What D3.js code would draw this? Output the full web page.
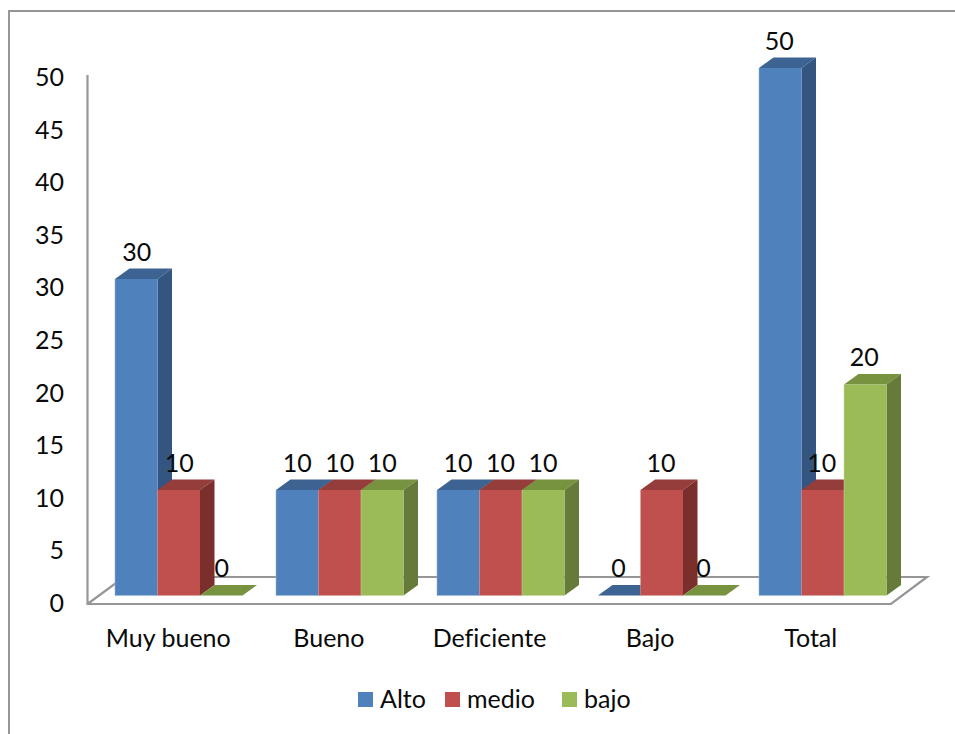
<!DOCTYPE html>
<html>
<head>
<meta charset="utf-8">
<script src="https://cdn.jsdelivr.net/npm/d3@7"></script>
<style>
html,body{margin:0;padding:0;background:#fff;overflow:hidden}
text{font-family:Lato,"Open Sans",sans-serif;fill:#0a0a0a;font-variant-ligatures:none}
</style>
</head>
<body>
<svg id="chart" width="955" height="734"></svg>
<script>
const categories = ["Muy bueno", "Bueno", "Deficiente", "Bajo", "Total"];
const seriesNames = ["Alto", "medio", "bajo"];
const alto = [30, 10, 10, 0, 50];
const medio = [10, 10, 10, 10, 10];
const bajo = [0, 10, 10, 0, 20];
const yTicks = [0, 5, 10, 15, 20, 25, 30, 35, 40, 45, 50];
const frontColors = ["#4f81bd", "#c0504d", "#9bbb59"];
const topColors = ["#3c6391", "#953d3b", "#78933f"];
const sideColors = ["#335580", "#7b2f2d", "#667b3a"];
const edgeColors = ["#9db8d8", "#dba09e", "#c6d99f"];

const svg = d3.select("#chart");
const seriesValues = [alto, medio, bajo];
const depthX = 14.5, depthY = 10.5;
const fontSize = 25;

// Outer chart border: only the top and left edges fall inside the page
svg.append("path").attr("d", "M9,734V11H955")
  .attr("fill", "none").attr("stroke", "#969696").attr("stroke-width", 2);

// Scales
const barY = d3.scaleLinear().domain([0, 50]).range([595.5, 68]);
const axisY = d3.scaleLinear().domain([0, 50]).range([603, 77]);
const floorX = d3.scaleBand().domain(categories).range([88, 891]);
const groupX = d3.scaleBand().domain(categories).range([98.25, 903.25]).paddingInner(0.208).paddingOuter(0.104);
const barX = d3.scaleBand().domain(d3.range(seriesNames.length)).range([0, groupX.bandwidth()]);

// Floor and vertical wall edge
const floor = svg.append("g").attr("fill", "none").attr("stroke", "#969696").attr("stroke-width", 2.2);
floor.append("path").attr("d", "M87.5,75V604H891L927,577H124L87.5,604").attr("stroke-linejoin", "miter");

// Axes: text only, the lines belong to the floor above
const yAxis = d3.axisLeft(axisY).tickValues(yTicks).tickSize(0).tickPadding(0);
svg.append("g").attr("transform", "translate(64,0)").call(yAxis)
  .call(g => g.select(".domain").remove())
  .call(g => g.selectAll("text").attr("font-size", fontSize).attr("font-family", null).attr("dy", "0.34em"));

const xAxis = d3.axisBottom(floorX).tickSize(0).tickPadding(0);
svg.append("g").attr("transform", "translate(0,629)").call(xAxis)
  .call(g => g.select(".domain").remove())
  .call(g => g.selectAll("text").attr("font-size", fontSize).attr("font-family", null).attr("dy", "0.71em"));

// Bars, left to right so each one covers the side face of the one before it
const bars = categories.flatMap((c, ci) => seriesNames.map((s, si) => ({c, si, v: seriesValues[si][ci]})));
const barW = barX.bandwidth();
const barLeft = d => groupX(d.c) + barX(d.si);

const barG = svg.append("g").selectAll("g").data(bars).join("g");
barG.append("path").attr("fill", d => topColors[d.si])
  .attr("d", d => {
    const x = barLeft(d), y = barY(d.v);
    return `M${x},${y}l${depthX},${-depthY}h${barW}l${-depthX},${depthY}Z`;
  });
barG.filter(d => d.v > 0).append("path").attr("fill", d => sideColors[d.si])
  .attr("d", d => {
    const x = barLeft(d) + barW, y = barY(d.v), y0 = barY(0);
    return `M${x},${y}l${depthX},${-depthY}V${y0 - depthY}L${x},${y0}Z`;
  });
barG.filter(d => d.v > 0).append("rect")
  .attr("x", barLeft).attr("y", d => barY(d.v))
  .attr("width", barW).attr("height", d => barY(0) - barY(d.v))
  .attr("fill", d => frontColors[d.si]);
// Pale highlight along the left and bottom of each front face
barG.filter(d => d.v > 0).append("path").attr("fill", "none")
  .attr("stroke", d => edgeColors[d.si]).attr("stroke-width", 1).attr("stroke-opacity", 0.5)
  .attr("d", d => `M${barLeft(d)},${barY(d.v)}V${barY(0)}h${barW}`);

// Value labels above every bar, spaced along the floor scale
svg.append("g").selectAll("text").data(bars).join("text")
  .attr("x", d => floorX(d.c) + 27.5 + barX(d.si) + barW / 2)
  .attr("y", d => barY(d.v) - 27)
  .attr("dy", "0.34em")
  .attr("text-anchor", "middle").attr("font-size", fontSize)
  .text(d => d.v);

// Legend
const legendSwatchX = [358, 445, 562];
const legend = svg.append("g").selectAll("g").data(seriesNames).join("g")
  .attr("transform", (d, i) => `translate(${legendSwatchX[i]},692)`);
legend.append("rect").attr("width", 15).attr("height", 15).attr("fill", (d, i) => frontColors[i]);
legend.append("text").attr("x", 22).attr("y", 7).attr("dy", "0.34em")
  .attr("font-size", fontSize).text(d => d);
</script>
</body>
</html>
